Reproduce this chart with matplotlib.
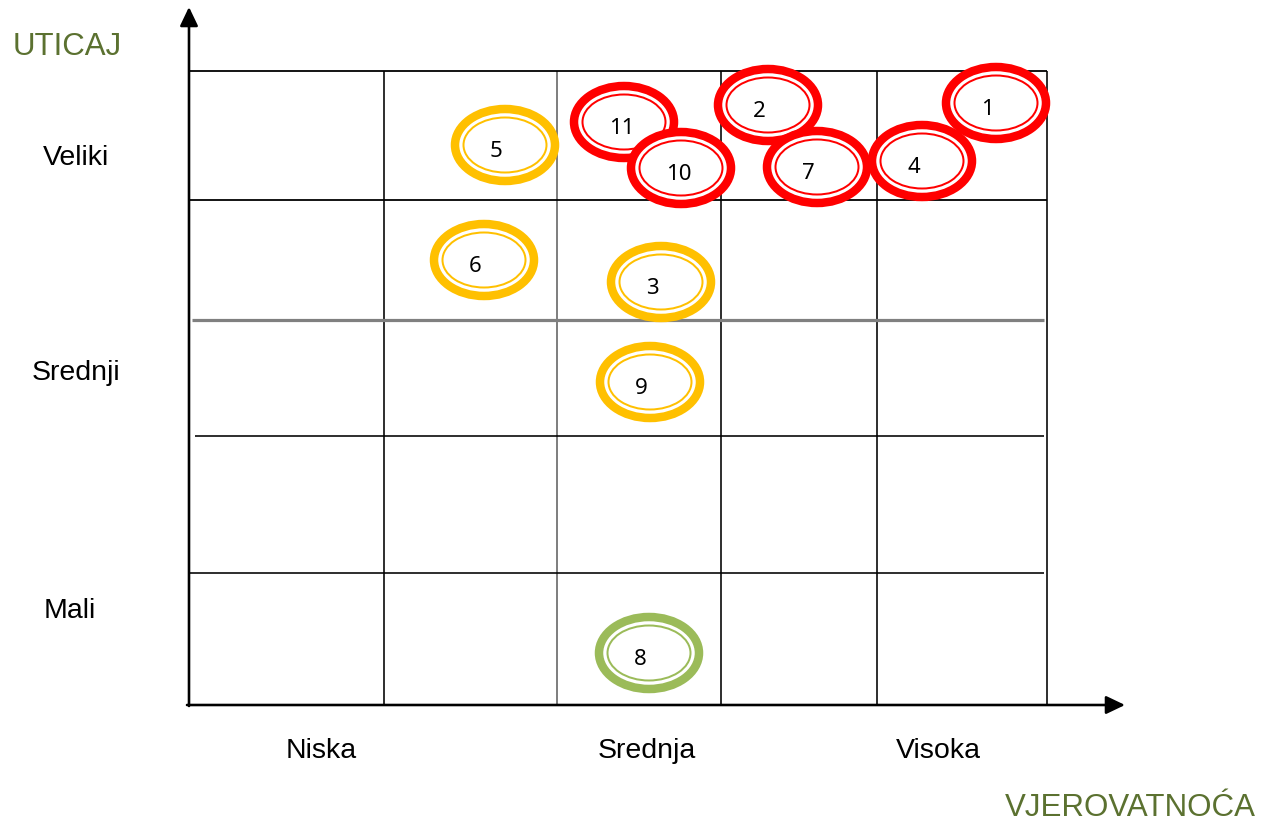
import matplotlib
matplotlib.use("Agg")
import matplotlib.pyplot as plt
from matplotlib.patches import Ellipse

# ---- data (canvas coordinates, y downwards) ----
col_edges = [188, 384, 557, 721, 877, 1047]
row_edges = [71, 200, 320, 436, 573, 705]

impact_labels = ["Veliki", "Srednji", "Mali"]
impact_label_x = [76, 76, 70]
impact_label_y = [158, 373, 611]
prob_labels = ["Niska", "Srednja", "Visoka"]
prob_label_x = [321, 647, 938]

risk_ids = ["1", "2", "11", "5", "6", "3", "9", "8", "4", "7", "10"]
risk_x = [996, 768, 624, 505, 484, 661, 650, 649, 922, 817, 681]
risk_y = [103, 105, 122, 145, 260, 282, 382, 653, 161, 167, 168]
risk_level = ["high", "high", "high", "mid", "mid", "mid", "mid", "low", "high", "high", "high"]

level_colors = {"high": "#FF0000", "mid": "#FFC000", "low": "#9BBB59"}

# ---- figure ----
W, H = 1265, 827
fig = plt.figure(figsize=(W / 100, H / 100), dpi=100)
ax = fig.add_axes([0, 0, 1, 1])
ax.set_xlim(0, W)
ax.set_ylim(H, 0)
ax.axis("off")

px = 0.72  # points per pixel

# grid lines
top, bottom = row_edges[0], row_edges[-1]
left, right = col_edges[0], col_edges[-1]
for x in col_edges[1:]:
    gray = (x == 557)
    ax.plot([x, x], [top, bottom], color="#808080" if gray else "black",
            lw=(2.0 if gray else 1.6) * px, zorder=1, solid_capstyle="butt")
for y in row_edges[:-1]:
    if y == 320:
        ax.plot([192, 1044], [y, y], color="#808080", lw=3.2 * px, zorder=1, solid_capstyle="butt")
    elif y == 436:
        ax.plot([195, 1044], [y, y], color="black", lw=1.6 * px, zorder=1, solid_capstyle="butt")
    elif y == 573:
        ax.plot([left, 1044], [y, y], color="black", lw=1.6 * px, zorder=1, solid_capstyle="butt")
    else:
        ax.plot([left, right], [y, y], color="black", lw=1.8 * px, zorder=1, solid_capstyle="butt")

# axes arrows
ax.annotate("", xy=(189, 7), xytext=(189, 706),
            arrowprops=dict(arrowstyle="-|>,head_length=1.15,head_width=0.55",
                            lw=2.6 * px, color="black", shrinkA=0, shrinkB=0),
            zorder=2)
ax.annotate("", xy=(1125, 705), xytext=(187, 705),
            arrowprops=dict(arrowstyle="-|>,head_length=1.15,head_width=0.55",
                            lw=2.6 * px, color="black", shrinkA=0, shrinkB=0),
            zorder=2)

# risk ellipses
for k, (rid, x, y, lev) in enumerate(zip(risk_ids, risk_x, risk_y, risk_level)):
    c = level_colors[lev]
    z = 3 + k
    ax.add_patch(Ellipse((x, y), 100, 72, facecolor="white", edgecolor=c,
                         lw=8.5 * px, zorder=z))
    ax.add_patch(Ellipse((x, y), 83, 55, facecolor="none", edgecolor=c,
                         lw=2.0 * px, zorder=z + 0.1))
    ax.text(x - 15, y + 12, rid, ha="left", va="baseline", fontsize=16,
            family=["Noto Sans", "DejaVu Sans"], color="black", zorder=z + 0.2)

# labels
txt_font = ["Liberation Sans", "DejaVu Sans"]
for lab, x, y in zip(impact_labels, impact_label_x, impact_label_y):
    ax.text(x, y, lab, ha="center", va="center",
            fontsize=20.5, family=txt_font, color="black")
for lab, x in zip(prob_labels, prob_label_x):
    ax.text(x, 751, lab, ha="center", va="center", fontsize=20.5,
            family=txt_font, color="black")

axis_color = "#5B7130"
ax.text(67, 47, "UTICAJ", ha="center", va="center", fontsize=22.5,
        family=txt_font, color=axis_color)
ax.text(1130, 808, "VJEROVATNOĆA", ha="center", va="center", fontsize=22.5,
        family=txt_font, color=axis_color)

fig.savefig("out.png", dpi=100, facecolor="white")
